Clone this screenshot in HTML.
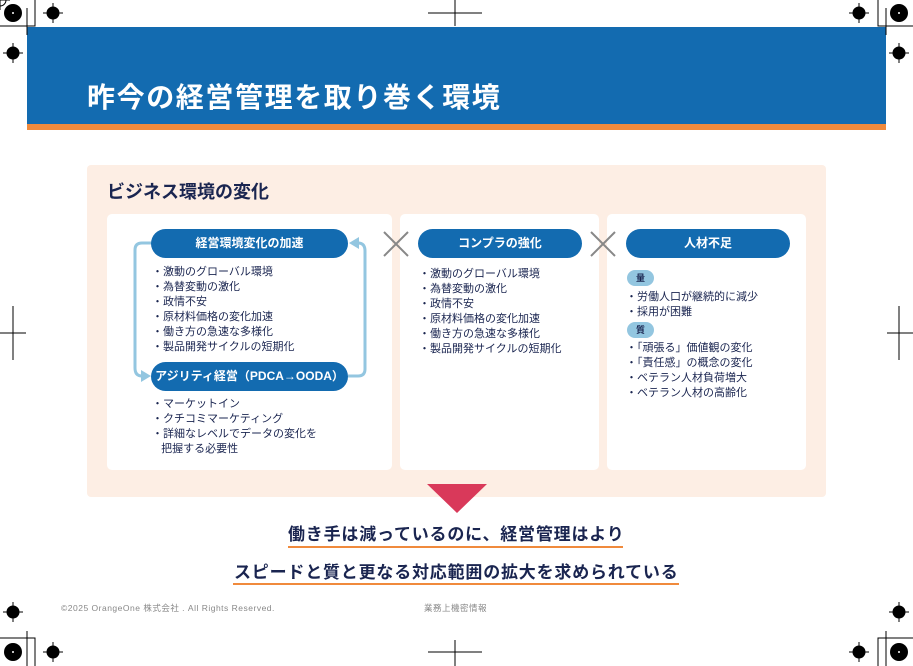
<!DOCTYPE html>
<html><head><meta charset="utf-8"><style>
*{margin:0;padding:0;box-sizing:border-box}
body{width:913px;height:666px;background:#fff;position:relative;overflow:hidden;font-family:"Liberation Sans","Noto Sans CJK JP",sans-serif;color:#1a2550}
.a{position:absolute}
.hdr{left:27px;top:27px;width:859px;height:97px;background:#136bb0}
.stripe{left:27px;top:124px;width:859px;height:6px;background:#f08a3c}
.title{left:87px;top:76px;font-size:28px;font-weight:bold;color:#fff;letter-spacing:1.6px}
.panel{left:87px;top:165px;width:739px;height:332px;background:#fdeee4;border-radius:4px}
.ptitle{left:107px;top:178px;font-size:18px;font-weight:bold;color:#1a2550}
.card{background:#fff;border-radius:5px;top:214px;height:256px}
.pill{background:#136bb0;color:#fff;border-radius:15px;height:29px;line-height:29px;text-align:center;font-size:12px;font-weight:bold}
.list{font-size:11px;line-height:15px;color:#1a2550}
.tag{background:#93c6e0;border-radius:8px;width:27px;height:16px;line-height:16px;text-align:center;font-size:9px;font-weight:bold;color:#1a2550}
.big{font-size:17px;font-weight:bold;color:#1a2550;white-space:nowrap}
.ul{height:2px;background:#f08a3c}
.foot{font-size:8.5px;color:#888;top:602px;letter-spacing:0.5px;white-space:nowrap}
</style></head><body>
<div class="a hdr"></div><div class="a stripe"></div>
<div class="a title">昨今の経営管理を取り巻く環境</div>
<div class="a panel"></div>
<div class="a ptitle">ビジネス環境の変化</div>
<div class="a card" style="left:107px;width:285px"></div>
<div class="a card" style="left:400px;width:199px"></div>
<div class="a card" style="left:607px;width:199px"></div>
<svg class="a" style="left:0;top:0" width="913" height="666">
<g fill="none" stroke="#93c6e0" stroke-width="3">
<path d="M152 243 H142 Q135 243 135 250 V368 Q135 376 142 376 H146"/>
<path d="M348 376 H358 Q365 376 365 369 V251 Q365 243 358 243 H354"/>
</g>
<polygon points="151,376 141,370 141,382" fill="#93c6e0"/>
<polygon points="349,243 359,237 359,249" fill="#93c6e0"/>
<g stroke="#888" stroke-width="2"><path d="M384 232 L408 256 M408 232 L384 256 M591 232 L615 256 M615 232 L591 256"/></g>
<polygon points="427,484 487,484 457,513" fill="#d9395a"/>
<g stroke="#000" stroke-width="1" fill="none">
<path d="M35 0 V26 H0 M27 8 V35" /><path d="M878 0 V26 H913 M886 8 V35"/>
<path d="M35 666 V638 H0 M27 666 V631"/><path d="M878 666 V638 H913 M886 666 V631"/>
<path d="M455 0 V26 M428 13 H482 M455 640 V666 M428 652 H482 M13 306 V360 M0 333 H26 M899 306 V360 M887 333 H913"/>
</g>
<g fill="#000"><circle cx="13" cy="13" r="9"/><circle cx="899" cy="13" r="9"/><circle cx="13" cy="652" r="9"/><circle cx="899" cy="652" r="9"/></g>
<g fill="#fff"><circle cx="13" cy="13" r="1"/><circle cx="899" cy="13" r="1"/><circle cx="13" cy="652" r="1"/><circle cx="899" cy="652" r="1"/></g>
<g stroke="#000" fill="none" stroke-width="1">
<g id="t"><circle cx="0" cy="0" r="6"/><path d="M-10 0 H10 M0 -10 V10"/></g>
</g>
<g fill="#000" stroke="#000">
<use href="#t" x="53" y="13"/><use href="#t" x="13" y="53"/><use href="#t" x="859" y="13"/><use href="#t" x="899" y="53"/>
<use href="#t" x="13" y="612"/><use href="#t" x="53" y="652"/><use href="#t" x="859" y="652"/><use href="#t" x="899" y="612"/>
<circle cx="53" cy="13" r="3"/><circle cx="13" cy="53" r="3"/><circle cx="859" cy="13" r="3"/><circle cx="899" cy="53" r="3"/>
<circle cx="13" cy="612" r="3"/><circle cx="53" cy="652" r="3"/><circle cx="859" cy="652" r="3"/><circle cx="899" cy="612" r="3"/>
</g>
</svg>
<div class="a pill" style="left:151px;top:229px;width:197px">経営環境変化の加速</div>
<div class="a list" style="left:152px;top:265px">・激動のグローバル環境<br>・為替変動の激化<br>・政情不安<br>・原材料価格の変化加速<br>・働き方の急速な多様化<br>・製品開発サイクルの短期化</div>
<div class="a pill" style="left:151px;top:362px;width:197px">アジリティ経営（PDCA→OODA）</div>
<div class="a list" style="left:152px;top:397px">・マーケットイン<br>・クチコミマーケティング<br>・詳細なレベルでデータの変化を<br>&nbsp;&nbsp;&nbsp;把握する必要性</div>
<div class="a pill" style="left:418px;top:229px;width:164px">コンプラの強化</div>
<div class="a list" style="left:419px;top:267px">・激動のグローバル環境<br>・為替変動の激化<br>・政情不安<br>・原材料価格の変化加速<br>・働き方の急速な多様化<br>・製品開発サイクルの短期化</div>
<div class="a pill" style="left:626px;top:229px;width:164px">人材不足</div>
<div class="a tag" style="left:627px;top:270px">量</div>
<div class="a list" style="left:626px;top:290px">・労働人口が継続的に減少<br>・採用が困難</div>
<div class="a tag" style="left:627px;top:322px">質</div>
<div class="a list" style="left:626px;top:341px">・「頑張る」価値観の変化<br>・「責任感」の概念の変化<br>・ベテラン人材負荷増大<br>・ベテラン人材の高齢化</div>
<div class="a big" style="left:288px;top:520px;letter-spacing:0.8px">働き手は減っているのに、経営管理はより</div>
<div class="a ul" style="left:288px;top:546px;width:335px"></div>
<div class="a big" style="left:234px;top:558px;letter-spacing:0.8px">スピードと質と更なる対応範囲の拡大を求められている</div>
<div class="a ul" style="left:233px;top:583px;width:446px"></div>
<div class="a foot" style="left:61px">©2025 OrangeOne 株式会社 . All Rights Reserved.</div>
<div class="a foot" style="left:424px">業務上機密情報</div>
</body></html>
